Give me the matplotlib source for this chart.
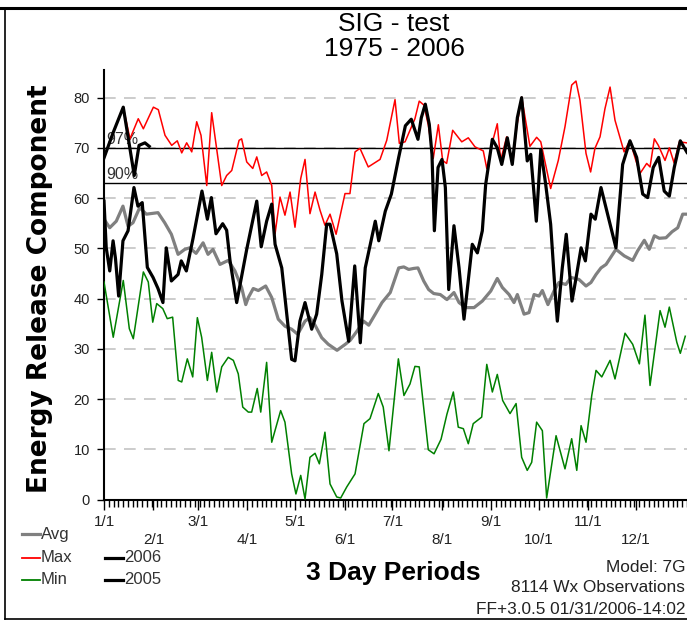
import matplotlib
matplotlib.use('Agg')
import matplotlib.pyplot as plt
from matplotlib.lines import Line2D
from matplotlib.ticker import MultipleLocator

plt.rcParams['font.family'] = ['Liberation Sans', 'DejaVu Sans']

# ---------------- data ----------------
title_lines = ['SIG - test', '1975 - 2006']
y_label = 'Energy Release Component'
x_label = '3 Day Periods'
month_days = [0, 31, 59, 90, 120, 151, 181, 212, 243, 273, 304, 334]
month_labels = ['1/1', '2/1', '3/1', '4/1', '5/1', '6/1', '7/1', '8/1', '9/1', '10/1', '11/1', '12/1']
y_ticks = [0, 10, 20, 30, 40, 50, 60, 70, 80]
pct_levels = [70, 63]
pct_labels = ['97%', '90%']
info_lines = ['Model: 7G', '8114 Wx Observations', 'FF+3.0.5 01/31/2006-14:02']

# (day of year, ERC)
y2006_pts = [(0, 68), (5.7, 73), (12.1, 78.1), (19.0, 64.5), (22.0, 70.5), (25.7, 71), (28.4, 70.3)]

max_pts = [(0, 68), (5.7, 73), (12.1, 78.1), (16.3, 71.8), (21.5, 75.8), (24.7, 73.8), (31.0, 78.1),
           (34.1, 77.6), (38.3, 72.5), (42.5, 70.5), (46.0, 71.4), (48.8, 69), (51.9, 71), (55.1, 69.2),
           (58.2, 75.2), (60.9, 72.5), (64.5, 62.5), (67.6, 77), (73.9, 62.5), (77.0, 64.5), (80.2, 65.5),
           (84.8, 71.5), (86.4, 71.8), (89.6, 67.2), (93.4, 65.9), (95.9, 68.2), (99.0, 64.5), (102.1, 65.2),
           (105.3, 62.5), (107.4, 52.9), (110.5, 60.2), (113.6, 56.6), (116.8, 61.2), (119.9, 54.2),
           (123.5, 63.9), (126.2, 67.7), (129.3, 56.9), (132.5, 61.2), (135.6, 57.6), (138.7, 54.6),
           (141.9, 56.8), (145.7, 52.8), (151.3, 60.9), (154.4, 60.9), (157.6, 69.2), (160.7, 69.9),
           (165.9, 66.2), (173.3, 67.7), (177.5, 71.5), (182.7, 79.6), (185.4, 70.9), (189.0, 71.2),
           (195.2, 75.8), (197.9, 79.3), (200.9, 78.5), (203.6, 74.5), (206.7, 67.9), (209.9, 74.6),
           (212.6, 67.5), (215.1, 66.9), (218.9, 73.5), (224.6, 71.2), (228.7, 72), (232.9, 70.2),
           (236.1, 69.7), (238.1, 69.4), (240.3, 65.9), (244.4, 71.8), (246.9, 74.8), (249.0, 67.5),
           (252.8, 72.2), (256.6, 67), (259.1, 74.2), (262.2, 80.1), (267.4, 70.3), (271.6, 72.1),
           (274.2, 71.2), (280.4, 61.9), (285.2, 67.5), (289.4, 74.2), (293.6, 82.5), (296.3, 83.3),
           (298.8, 79.5), (302.6, 68.9), (305.5, 65.2), (308.2, 69.9), (311.4, 72.2), (314.5, 77.8),
           (317.7, 82.1), (320.8, 75.5), (326.5, 69.2), (330.2, 71.5), (333.4, 68), (336.5, 64.9),
           (340.7, 66.9), (342.8, 66.2), (345.5, 71.8), (348.0, 70.5), (352.2, 67.5), (354.9, 70),
           (357.9, 67), (361.2, 71.2), (365.8, 71)]

avg_pts = [(0, 55.8), (3.6, 54.1), (7.7, 55.4), (11.9, 58.4), (15.1, 54.4), (18.2, 55.1), (22.4, 58.1),
           (26.6, 56.8), (33.9, 57.1), (38.1, 55.1), (42.3, 52.8), (46.5, 48.8), (50.7, 49.8), (53.8, 50.1),
           (57.8, 49), (62.2, 51.1), (65.3, 48.8), (68.4, 49.8), (72.8, 46.8), (78.0, 47.6), (82.2, 45.5),
           (86.4, 42.2), (89.0, 38.8), (90.6, 40.2), (93.7, 42), (96.9, 41.6), (101.5, 42.5), (105.3, 40.2),
           (109.4, 35.9), (113.6, 34.5), (117.8, 33.9), (121.6, 32.9), (126.2, 35.5), (129.3, 36.2),
           (132.5, 34.7), (136.7, 32.2), (140.8, 30.9), (146.3, 29.7), (151.5, 30.9), (154.6, 31.7),
           (158.8, 33.5), (163.0, 35.5), (166.2, 34.7), (170.3, 36.9), (174.5, 39.2), (179.7, 41.2),
           (185.0, 46.1), (188.2, 46.3), (191.3, 45.8), (194.4, 46), (197.1, 46.1), (200.7, 43.5),
           (203.8, 41.8), (207.0, 41), (211.1, 40.8), (215.3, 39.8), (219.7, 41.2), (222.9, 39.2),
           (227.1, 38.2), (232.3, 38.2), (237.5, 39.5), (242.8, 41.5), (246.9, 44), (250.1, 42.2),
           (254.3, 40.8), (257.4, 39.2), (259.5, 40.8), (263.7, 36.9), (266.8, 37.2), (270.0, 40.8),
           (273.1, 40.5), (275.2, 41.6), (278.7, 38.8), (282.5, 41.5), (285.6, 43.2), (289.9, 42.8),
           (293.2, 44.2), (298.2, 43.8), (302.6, 42.5), (305.7, 43.2), (308.9, 44.8), (312.0, 46.1),
           (315.2, 46.8), (321.4, 49.8), (326.6, 48.5), (331.9, 47.6), (335.0, 49.5), (339.2, 51.6),
           (342.3, 49.8), (345.5, 52.5), (348.6, 52), (352.8, 52.1), (356.6, 53.3), (360.2, 54.1),
           (363.3, 56.8), (366.0, 56.8)]

min_pts = [(0, 43.3), (5.8, 32.3), (12.1, 43.6), (15.9, 34), (18.4, 32), (24.7, 45.3), (27.8, 43.3),
           (30.6, 35.3), (33.1, 39), (36.9, 38), (39.7, 36), (43.1, 36.3), (46.6, 23.7), (48.8, 23.4),
           (52.3, 28), (55.7, 24.4), (58.6, 36.2), (61.3, 32.3), (64.9, 23.7), (67.6, 29.3), (70.8, 21.4),
           (73.9, 26.4), (78.0, 28.3), (81.2, 27.7), (84.3, 25), (87.1, 18.4), (90.6, 17.4), (92.7, 17.4),
           (96.2, 22.1), (98.4, 17.4), (102.1, 27.3), (105.3, 11.4), (110.9, 17.7), (113.6, 15.4),
           (117.8, 5.1), (120.5, 1.1), (123.5, 4.8), (126.2, 0.1), (129.3, 8.4), (132.5, 9.2), (135.2, 7.1),
           (138.7, 13.4), (141.9, 3.1), (146.1, 0.5), (148.6, 0.3), (152.4, 2.5), (157.6, 5.1),
           (163.2, 15.1), (167.0, 16.1), (172.2, 21.1), (175.3, 18.4), (178.9, 9.7), (184.8, 28),
           (188.3, 20.7), (192.1, 23), (195.2, 26.5), (197.9, 26.4), (203.6, 9.9), (207.2, 9.1),
           (211.6, 12), (215.3, 17), (219.3, 21.4), (222.4, 14.4), (225.6, 14.1), (228.7, 11.1),
           (231.8, 15.1), (237.1, 16.4), (240.3, 26.9), (243.8, 21.4), (246.9, 24.9), (250.3, 19.7),
           (254.9, 17.1), (258.7, 19.1), (262.2, 8.4), (265.7, 5.8), (268.5, 7.4), (271.6, 15.4),
           (275.2, 13.7), (277.9, 0.3), (283.8, 12.7), (289.4, 6.1), (293.6, 12.1), (296.8, 5.8),
           (299.5, 14.7), (302.6, 11.4), (306.2, 20.7), (308.9, 25.7), (312.5, 24.4), (317.7, 27.7),
           (320.8, 24), (327.1, 33.1), (331.9, 30.9), (336.1, 27), (339.6, 36.7), (342.8, 22.7),
           (349.1, 37.6), (352.2, 34.3), (354.9, 38.3), (359.6, 31.3), (361.8, 29.1), (364.9, 32.5)]

y2005_pts = [(0, 59.4), (1.4, 50.1), (3.6, 45.5), (5.7, 51.5), (7.2, 48), (9.2, 40.5), (11.9, 51.5),
             (15.1, 53.5), (18.8, 62.1), (21.3, 58.4), (24.0, 59.1), (27.2, 46.2), (30.8, 44.2), (33.9, 42),
             (37.0, 39.2), (39.1, 50.1), (42.3, 43.5), (46.5, 44.8), (48.5, 47.5), (51.7, 45.5), (55.9, 52),
             (61.5, 61.4), (64.9, 55.8), (67.4, 60.1), (70.3, 52.9), (74.5, 54.9), (77.0, 53.6), (79.1, 47.6),
             (83.3, 39.2), (89.6, 49.8), (95.9, 59.4), (98.7, 50.3), (102.1, 55.4), (105.3, 58.8),
             (107.4, 50.8), (111.6, 46.1), (117.8, 27.9), (119.9, 27.6), (123.0, 35.5), (126.2, 39.2),
             (130.4, 33.9), (133.5, 36.9), (136.7, 44.8), (139.8, 54.8), (141.9, 54.8), (146.1, 48.9),
             (149.4, 39.5), (153.6, 31.5), (157.4, 46.5), (160.9, 31.2), (164.0, 46.1), (170.3, 55.4),
             (172.5, 51.5), (176.6, 57.4), (180.4, 60.8), (185.0, 68.1), (189.2, 74.4), (192.9, 75.7),
             (197.1, 71.7), (199.2, 76), (201.7, 78.7), (204.2, 74.7), (205.9, 68.7), (207.4, 53.5),
             (209.7, 66.1), (212.2, 67.7), (214.3, 62.1), (216.4, 41.8), (219.7, 54.5), (222.9, 46.1),
             (226.0, 35.9), (229.1, 44.8), (231.2, 50.8), (234.4, 49.1), (237.5, 53.5), (239.6, 62.7),
             (243.8, 71.7), (246.9, 70), (249.7, 66.7), (253.2, 72), (256.3, 66.7), (259.5, 76),
             (262.2, 80), (265.7, 67.4), (267.9, 68.7), (271.4, 55.4), (274.2, 69.7), (277.3, 62.7),
             (280.4, 54.8), (283.6, 39.5), (284.6, 35.5), (287.7, 46.1), (290.2, 52.8), (293.8, 39.5),
             (296.3, 44), (299.5, 50.1), (302.2, 47.5), (305.7, 56.8), (308.4, 55.8), (312.0, 62.1),
             (321.4, 50.1), (325.6, 66.7), (330.2, 71.4), (334.4, 68.1), (338.2, 60.8), (341.3, 60.1),
             (344.8, 66.1), (348.2, 68.1), (351.7, 61.4), (354.9, 60.4), (358.0, 66.1), (361.8, 71.4),
             (366.0, 69.1)]

# ---------------- figure ----------------
W, H = 687, 622
fig = plt.figure(figsize=(W / 100, H / 100), dpi=100)
fig.patch.set_facecolor('white')
ax = fig.add_axes([104 / W, 1 - 499.5 / H, (687 - 104) / W, (499.5 - 70) / H])

ax.set_xlim(0, 366)
ax.set_ylim(0, 85.5)

for s in ['top', 'right']:
    ax.spines[s].set_visible(False)
for s in ['left', 'bottom']:
    ax.spines[s].set_linewidth(1.5)
    ax.spines[s].set_color('black')

ax.set_yticks(y_ticks)
ax.set_yticklabels([str(v) for v in y_ticks])
ax.grid(axis='y', color='#c4c4c4', lw=1.2, linestyle=(0, (7, 5)), zorder=0)
ax.set_axisbelow(True)

ax.set_xticks(month_days)
ax.set_xticklabels([lbl if i % 2 == 0 else '\n' + lbl for i, lbl in enumerate(month_labels)])
ax.xaxis.set_minor_locator(MultipleLocator(3))
ax.tick_params(axis='x', which='major', length=7, width=1, pad=4, labelsize=11, labelcolor='#222222')
ax.tick_params(axis='x', which='minor', length=5, width=1)
ax.tick_params(axis='y', which='major', length=5, width=1, pad=5, labelsize=10.5, labelcolor='#222222')
for lbl in ax.get_xticklabels():
    lbl.set_linespacing(1.35)

for lev, lab in zip(pct_levels, pct_labels):
    ax.axhline(lev, color='black', lw=1.0, zorder=1)
    ax.text(1.5, lev + 0.2, lab, ha='left', va='bottom', fontsize=11.5, color='#333333', zorder=1)


def xy(pts):
    return [p[0] for p in pts], [p[1] for p in pts]


ax.plot(*xy(avg_pts), color='#808080', lw=2.3, zorder=2, solid_joinstyle='round')
ax.plot(*xy(max_pts), color='#ff0000', lw=1.1, zorder=3)
ax.plot(*xy(min_pts), color='#008000', lw=1.1, zorder=3)
ax.plot(*xy(y2005_pts), color='black', lw=2.3, zorder=4, solid_joinstyle='round')
ax.plot(*xy(y2006_pts), color='black', lw=2.3, zorder=4, solid_joinstyle='round')

# titles and labels
fig.text(394 / W, 1 - 24 / H, title_lines[0], ha='center', va='center', fontsize=19)
fig.text(394 / W, 1 - 49 / H, title_lines[1], ha='center', va='center', fontsize=19)
fig.text(40 / W, 1 - 289 / H, y_label, rotation=90, ha='center', va='center', fontsize=19,
         fontweight='bold', family='DejaVu Sans')
fig.text(393 / W, 1 - 573 / H, x_label, ha='center', va='center', fontsize=19, fontweight='bold')

for i, line in enumerate(info_lines):
    fig.text(685 / W, 1 - (567 + 21 * i) / H, line, ha='right', va='center', fontsize=12.4,
             color='#222222')

# legend (manual, figure coordinates)
legend_items = [('Avg', '#808080', 22, 534), ('Max', '#ff0000', 22, 558), ('Min', '#008000', 22, 580),
                ('2006', 'black', 105, 558), ('2005', 'black', 105, 580)]
for name, col, x0, yy in legend_items:
    lw = 2.3 if col in ('#808080', 'black') else 1.3
    fig.add_artist(Line2D([x0 / W, (x0 + 18) / W], [1 - yy / H] * 2, color=col, lw=lw,
                          transform=fig.transFigure))
    fig.text((x0 + 19) / W, 1 - yy / H, name, ha='left', va='center', fontsize=12, color='#333333')

# outer frame
fig.add_artist(Line2D([0, 1], [1 - 8 / H] * 2, color='black', lw=2.2, transform=fig.transFigure))
fig.add_artist(Line2D([5 / W, 5 / W], [1 - 8 / H, 1 - 619 / H], color='black', lw=1.2,
                      transform=fig.transFigure))
fig.add_artist(Line2D([5 / W, 1], [1 - 619 / H] * 2, color='black', lw=1.2, transform=fig.transFigure))

fig.savefig('out.png', dpi=100)
